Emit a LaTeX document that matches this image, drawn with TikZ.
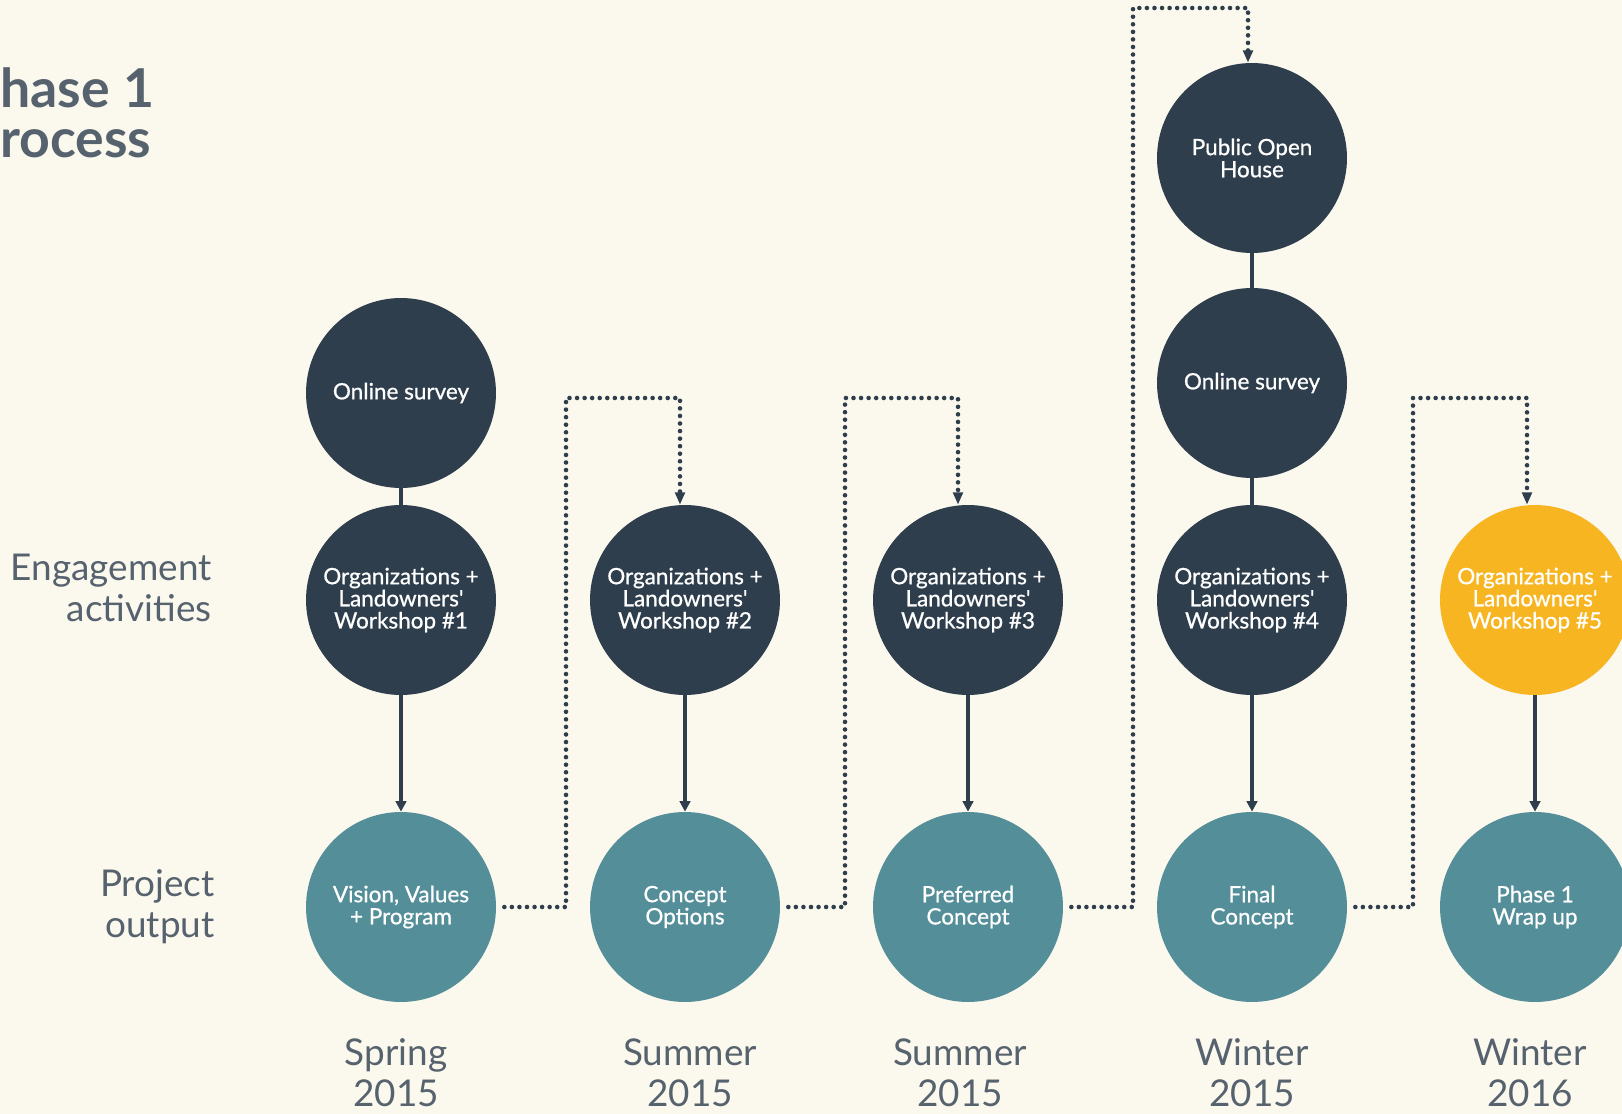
\documentclass[tikz,border=0pt]{standalone}
\usepackage{fontspec}
\setmainfont{Lato}
\newfontfamily\stagefont[FakeBold=0.8]{Lato}
\usetikzlibrary{arrows.meta}

\definecolor{paper}{HTML}{FBF8EE}
\definecolor{slate}{HTML}{2E3E4C}
\definecolor{sea}{HTML}{548F99}
\definecolor{gold}{HTML}{F6B521}
\definecolor{labelgray}{HTML}{56626D}

\tikzset{
  stage/.style={circle, minimum size=3.8cm, inner sep=0pt, text=white, align=center,
    font=\stagefont\fontsize{12.8}{12.6}\selectfont},
  engage/.style={stage, fill=slate},
  output/.style={stage, fill=sea},
  current/.style={stage, fill=gold},
  rowlabel/.style={text=labelgray, align=right, anchor=east, inner sep=0pt,
    font=\fontsize{21}{23.5}\selectfont},
  season/.style={text=labelgray, align=center, inner sep=0pt,
    font=\fontsize{21}{23.5}\selectfont},
  link/.style={slate, line width=2.6pt},
  flow/.style={link, -{Triangle[length=6pt,width=6pt]}},
  jump/.style={slate, line width=2.6pt, line cap=round, dash pattern=on 0pt off 4.3pt,
    shorten <=0.16cm, -{Triangle[length=7pt,width=5.5pt]}},
}

\begin{document}
\begin{tikzpicture}[x=0.02cm,y=-0.02cm]
  \fill[paper] (0,0) rectangle (1622,1114);
  \useasboundingbox (0,0) rectangle (1622,1114);

  % title and row labels
  \node[text=labelgray, anchor=west, inner sep=0pt, align=left,
    font=\bfseries\fontsize{30.5}{28.5}\selectfont] (title) at (-33,113) {Phase 1\\Process};
  \node[rowlabel] (engagelabel) at (212,588) {Engagement\\activities};
  \node[rowlabel] (outputlabel) at (215,907) {Project\\output};

  % circles
  \node[engage] (s1) at (401,393) {Online survey};
  \node[engage] (w1) at (401,600) {Organizations +\\Landowners'\\Workshop \#1};
  \node[output] (o1) at (401,907) {Vision, Values\\+ Program};

  \node[engage] (w2) at (685,600) {Organizations +\\Landowners'\\Workshop \#2};
  \node[output] (o2) at (685,907) {Concept\\Options};

  \node[engage] (w3) at (968,600) {Organizations +\\Landowners'\\Workshop \#3};
  \node[output] (o3) at (968,907) {Preferred\\Concept};

  \node[engage] (h4) at (1252,158) {Public Open\\House};
  \node[engage] (s4) at (1252,383) {Online survey};
  \node[engage] (w4) at (1252,600) {Organizations +\\Landowners'\\Workshop \#4};
  \node[output] (o4) at (1252,907) {Final\\Concept};

  \node[current] (w5) at (1535,600) {Organizations +\\Landowners'\\Workshop \#5};
  \node[output] (o5) at (1535,907) {Phase 1\\Wrap up};

  % seasons
  \node[season] (t1) at (396,1073) {Spring\\2015};
  \node[season] (t2) at (690,1073) {Summer\\2015};
  \node[season] (t3) at (960,1073) {Summer\\2015};
  \node[season] (t4) at (1252,1073) {Winter\\2015};
  \node[season] (t5) at (1530,1073) {Winter\\2016};

  % solid links
  \draw[link] (s1) -- (w1);
  \draw[link] (h4) -- (s4);
  \draw[link] (s4) -- (w4);
  \draw[flow] (w1) -- (o1);
  \draw[flow] (w2) -- (o2);
  \draw[flow] (w3) -- (o3);
  \draw[flow] (w4) -- (o4);
  \draw[flow] (w5) -- (o5);

  % dotted jumps to the next workshop
  \coordinate (j1) at (566,398);
  \coordinate (j2) at (845,398);
  \coordinate (j3) at (1133,8);
  \coordinate (j4) at (1413,398);
  \draw[jump] (o1.east) -| (j1) -| ([xshift=-0.1cm]w2.north);
  \draw[jump] (o2.east) -| (j2) -| ([xshift=-0.2cm]w3.north);
  \draw[jump] (o3.east) -| (j3) -| ([xshift=-0.08cm]h4.north);
  \draw[jump] (o4.east) -| (j4) -| ([xshift=-0.16cm]w5.north);
\end{tikzpicture}
\end{document}
